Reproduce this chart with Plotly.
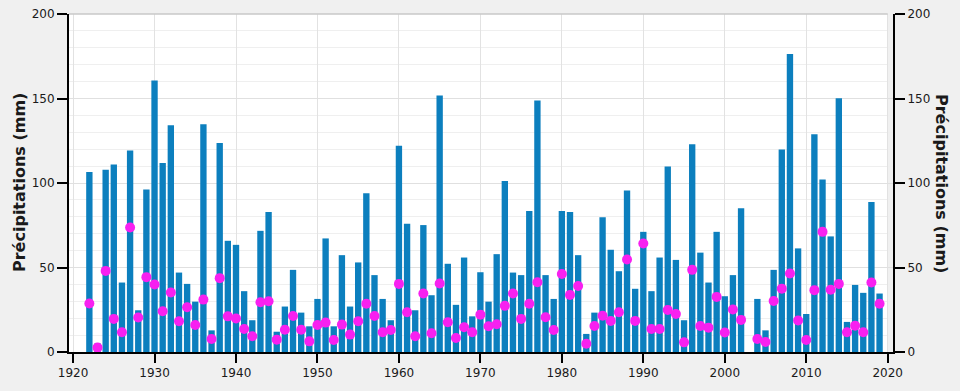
import plotly.graph_objects as go

years = list(range(1922, 2020))
bars = [106.5, 5.1, 107.9, 110.9, 41.1, 119.2, 24.7, 96.2, 160.7, 111.9,
        134.2, 47.0, 40.3, 29.8, 134.8, 12.8, 123.7, 65.8, 63.4, 36.0,
        18.8, 71.7, 82.8, 12.0, 26.9, 48.6, 23.3, 15.2, 31.4, 67.2,
        15.2, 57.3, 26.9, 53.0, 93.9, 45.5, 31.4, 18.8, 122.1, 75.9,
        24.7, 75.1, 33.6, 151.8, 52.2, 27.9, 55.9, 21.1, 47.2, 29.8,
        57.9, 101.2, 47.0, 45.5, 83.4, 148.8, 45.5, 31.4, 83.4, 82.8,
        57.3, 10.7, 23.3, 79.8, 60.5, 47.8, 95.5, 37.4, 71.1, 36.0,
        55.9, 109.7, 54.5, 18.8, 122.9, 58.8, 41.1, 71.1, 33.0, 45.5,
        85.0, None, 31.4, 12.8, 48.6, 119.8, 176.3, 61.3, 22.5, 128.9,
        102.0, 68.4, 150.2, 17.8, 39.7, 35.0, 88.7, 34.6]
points = [28.7, 2.6, 48.0, 19.6, 11.7, 73.7, 20.4, 44.3, 39.9, 24.1,
          35.2, 18.2, 26.5, 16.0, 31.0, 7.7, 43.7, 21.1, 19.8, 13.6,
          9.3, 29.4, 30.0, 7.3, 13.2, 21.3, 13.2, 6.3, 16.0, 17.4,
          7.1, 16.2, 10.3, 18.2, 28.5, 21.3, 11.7, 13.0, 40.3, 23.5,
          9.3, 34.6, 11.1, 40.5, 17.6, 8.3, 14.6, 11.7, 22.1, 15.2,
          16.4, 27.3, 34.6, 19.6, 28.5, 41.3, 20.6, 13.0, 46.2, 33.8,
          39.1, 4.9, 15.4, 21.5, 18.4, 23.5, 54.7, 18.4, 64.2, 13.6,
          13.6, 24.9, 22.5, 5.7, 48.6, 15.4, 14.4, 32.6, 11.5, 25.1,
          19.0, None, 7.7, 5.9, 30.2, 37.5, 46.4, 18.6, 7.1, 36.6,
          71.1, 36.8, 40.3, 11.7, 15.6, 11.7, 41.1, 28.5]
y_ticks = [0, 50, 100, 150, 200]
x_ticks = [1920, 1930, 1940, 1950, 1960, 1970, 1980, 1990, 2000, 2010, 2020]
y_title = "Précipitations (mm)"

fig = go.Figure()
fig.add_trace(go.Bar(x=years, y=bars, marker=dict(color="#0c7fbe", line=dict(width=0)),
                     showlegend=False))
fig.add_trace(go.Scatter(x=years, y=points, mode="markers", yaxis="y2",
                         marker=dict(color="#f820f0", size=10, line=dict(width=0)),
                         showlegend=False))

font = dict(family="DejaVu Sans, Verdana, sans-serif", size=12, color="#1a1a1a")
title_font = dict(family="DejaVu Sans, Verdana, sans-serif", size=16, color="#1a1a1a")
xr = [1919.5, 2020.65]
fig.update_layout(
    width=960, height=391,
    margin=dict(l=69, r=67, t=14, b=39, autoexpand=False),
    paper_bgcolor="#f0f0f0", plot_bgcolor="#ffffff",
    bargap=0.22, font=font,
    xaxis=dict(range=xr, tickvals=x_ticks, ticks="outside", ticklen=9, tickwidth=1.5,
               tickcolor="#000", showline=True, linecolor="#000", linewidth=2,
               showgrid=True, gridcolor="#e2e2e2", gridwidth=1, zeroline=False,
               tickfont=font, automargin=False),
    yaxis=dict(range=[0, 200], tickvals=y_ticks, ticks="outside", ticklen=10, tickwidth=1.5,
               tickcolor="#000", showline=True, linecolor="#000", linewidth=2,
               showgrid=True, gridcolor="#e0e0e0", gridwidth=1, zeroline=False,
               minor=dict(dtick=10, showgrid=True, gridcolor="#efefef", gridwidth=1),
               tickfont=font, automargin=False),
    yaxis2=dict(range=[0, 200], tickvals=y_ticks, overlaying="y", side="right",
                ticks="outside", ticklen=10, tickwidth=1.5, tickcolor="#000",
                showline=True, linecolor="#000", linewidth=2, showgrid=False,
                zeroline=False, tickfont=font, automargin=False),
    shapes=[
        dict(type="rect", xref="x", yref="paper", x0=2020.0, x1=xr[1], y0=0, y1=1,
             fillcolor="#f0f0f0", line=dict(width=0), layer="below"),
        dict(type="line", xref="x", yref="paper", x0=xr[0], x1=2020.0, y0=1, y1=1,
             line=dict(color="#c8c8c8", width=1.5)),
    ],
    annotations=[
        dict(text=f"<b>{y_title}</b>", xref="paper", yref="paper", x=0, y=0.5,
             xanchor="center", yanchor="middle", xshift=-50, textangle=-90,
             showarrow=False, font=title_font),
        dict(text=f"<b>{y_title}</b>", xref="paper", yref="paper", x=1, y=0.5,
             xanchor="center", yanchor="middle", xshift=49, textangle=90,
             showarrow=False, font=title_font),
    ],
)
fig.write_html("out.html", config={"displayModeBar": False},
               post_script="document.body.style.margin='0';document.body.style.overflow='hidden';")
